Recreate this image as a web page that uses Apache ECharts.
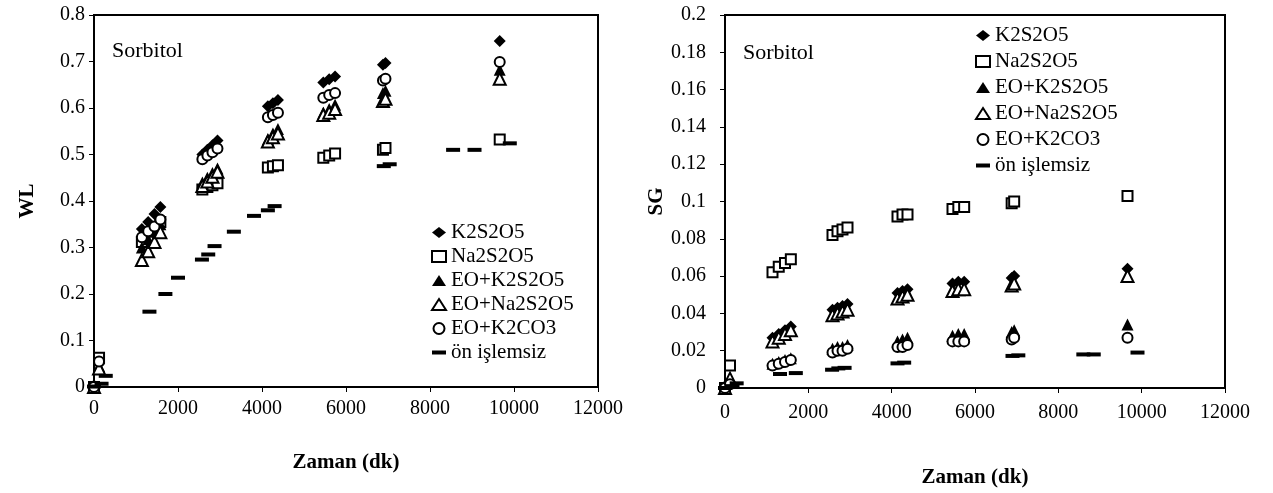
<!DOCTYPE html>
<html>
<head>
<meta charset="utf-8">
<script src="https://cdn.jsdelivr.net/npm/echarts@6/dist/echarts.min.js"></script>
<style>
html,body{margin:0;padding:0;background:#fff;}
#chart{width:1273px;height:493px;}
</style>
</head>
<body>
<div id="chart"></div>
<script>
// ölçüm zamanları (dk) - işlem görmüş numuneler
var zaman = [0, 120, 1140, 1290, 1440, 1580, 2580, 2700, 2820, 2940, 4140, 4260, 4380, 5460, 5600, 5740, 6880, 6940, 9660];
// ön işlemsiz numune zamanları
var zamanWL_on = [0, 180, 280, 1320, 1700, 2000, 2570, 2720, 2870, 3330, 3810, 4140, 4300, 6900, 7040, 8550, 9060, 9900];
var zamanSG_on = [0, 180, 280, 1320, 1700, 2570, 2720, 2870, 4140, 4300, 6900, 7040, 8600, 8850, 9900];

// WL (sol grafik)
var wl_k2s2o5 = [0.003, 0.05, 0.34, 0.355, 0.372, 0.387, 0.5, 0.51, 0.52, 0.53, 0.604, 0.61, 0.617, 0.655, 0.662, 0.668, 0.693, 0.697, 0.744];
var wl_na2s2o5 = [0, 0.063, 0.312, 0.325, 0.342, 0.355, 0.425, 0.43, 0.434, 0.438, 0.472, 0.475, 0.477, 0.493, 0.498, 0.502, 0.51, 0.514, 0.532];
var wl_eoK2s2o5 = [0, 0.045, 0.3, 0.318, 0.334, 0.35, 0.44, 0.45, 0.46, 0.47, 0.533, 0.545, 0.555, 0.59, 0.598, 0.607, 0.632, 0.637, 0.682];
var wl_eoNa2s2o5 = [0, 0.04, 0.273, 0.292, 0.312, 0.333, 0.432, 0.442, 0.452, 0.463, 0.528, 0.537, 0.545, 0.585, 0.59, 0.598, 0.615, 0.62, 0.663];
var wl_eoK2co3 = [0, 0.055, 0.322, 0.335, 0.345, 0.36, 0.49, 0.498, 0.505, 0.513, 0.58, 0.585, 0.59, 0.622, 0.628, 0.632, 0.659, 0.663, 0.699];
var wl_onIslemsiz = [0.001, 0.007, 0.024, 0.162, 0.2, 0.235, 0.274, 0.285, 0.303, 0.334, 0.368, 0.38, 0.389, 0.475, 0.479, 0.51, 0.51, 0.524];

// SG (sağ grafik)
var sg_k2s2o5 = [0.001, 0.002, 0.027, 0.029, 0.031, 0.033, 0.042, 0.043, 0.044, 0.045, 0.051, 0.052, 0.053, 0.056, 0.057, 0.057, 0.059, 0.06, 0.064];
var sg_na2s2o5 = [0, 0.012, 0.062, 0.065, 0.067, 0.069, 0.082, 0.084, 0.085, 0.086, 0.092, 0.093, 0.093, 0.096, 0.097, 0.097, 0.099, 0.1, 0.103];
var sg_eoK2s2o5 = [0, 0.003, 0.013, 0.014, 0.015, 0.016, 0.021, 0.022, 0.022, 0.023, 0.025, 0.026, 0.027, 0.028, 0.029, 0.029, 0.03, 0.031, 0.034];
var sg_eoNa2s2o5 = [0, 0.005, 0.025, 0.027, 0.029, 0.031, 0.039, 0.04, 0.041, 0.042, 0.048, 0.049, 0.05, 0.052, 0.053, 0.053, 0.055, 0.056, 0.06];
var sg_eoK2co3 = [0, 0.002, 0.012, 0.013, 0.014, 0.015, 0.019, 0.02, 0.02, 0.021, 0.022, 0.022, 0.023, 0.025, 0.025, 0.025, 0.026, 0.027, 0.027];
var sg_onIslemsiz = [0, 0.001, 0.0025, 0.0075, 0.008, 0.0098, 0.0105, 0.0108, 0.0132, 0.0136, 0.0172, 0.0175, 0.018, 0.018, 0.019];

// eksen ayarları
var xTicks = [0, 12000, 2000];   // min, max, aralık
var wlTicks = [0, 0.8, 0.1];
var sgTicks = [0, 0.2, 0.02];

var seriesNames = ['K2S2O5', 'Na2S2O5', 'EO+K2S2O5', 'EO+Na2S2O5', 'EO+K2CO3', 'ön işlemsiz'];

var font = 'Liberation Serif';

function zip(xs, ys){
	var out = [];
	for(var i = 0; i < ys.length; i++){
		out.push([xs[i], ys[i]]);
	}
	return out;
}

// işaret stilleri
var dolu = {color: '#000', opacity: 1};
var bos = {color: '#fff', borderColor: '#000', borderWidth: 2, opacity: 1};
var markers = [
	{symbol: 'diamond', symbolSize: 12, itemStyle: dolu},
	{symbol: 'rect', symbolSize: 10, itemStyle: bos},
	{symbol: 'triangle', symbolSize: 12, itemStyle: dolu},
	{symbol: 'triangle', symbolSize: 12, itemStyle: bos},
	{symbol: 'circle', symbolSize: 10, itemStyle: bos},
	{symbol: 'rect', symbolSize: [14, 4], itemStyle: dolu}
];
var legendIcons = ['diamond', 'rect', 'triangle', 'triangle', 'circle', 'path://M0,0H14V4H0Z'];

function makeSeries(dataSets, idx){
	var list = [];
	for(var i = 0; i < dataSets.length; i++){
		list.push({
			name: seriesNames[i],
			type: 'scatter',
			xAxisIndex: idx,
			yAxisIndex: idx,
			symbol: markers[i].symbol,
			symbolSize: markers[i].symbolSize,
			itemStyle: markers[i].itemStyle,
			emphasis: {disabled: true},
			data: dataSets[i]
		});
	}
	return list;
}

function legendData(){
	var d = [];
	for(var i = 0; i < seriesNames.length; i++){
		d.push({name: seriesNames[i], icon: legendIcons[i]});
	}
	return d;
}

function plain(v){
	return String(v);
}

function xAxisOf(idx, margin, gap){
	return {
		type: 'value', gridIndex: idx,
		min: xTicks[0], max: xTicks[1], interval: xTicks[2],
		name: 'Zaman (dk)', nameLocation: 'middle', nameGap: gap,
		nameTextStyle: {fontFamily: font, fontWeight: 'bold', fontSize: 21, color: '#000'},
		axisLine: {lineStyle: {color: '#000', width: 2}},
		axisTick: {show: true, length: 5, lineStyle: {color: '#000'}},
		axisLabel: {fontFamily: font, fontSize: 20, color: '#000', margin: margin, formatter: plain},
		splitLine: {show: false}
	};
}

function yAxisOf(idx, ticks, name, margin, gap){
	return {
		type: 'value', gridIndex: idx,
		min: ticks[0], max: ticks[1], interval: ticks[2],
		name: name, nameLocation: 'middle', nameGap: gap,
		nameTextStyle: {fontFamily: font, fontWeight: 'bold', fontSize: 21, color: '#000'},
		axisLine: {lineStyle: {color: '#000', width: 2}},
		axisTick: {show: true, length: 5, lineStyle: {color: '#000'}},
		axisLabel: {fontFamily: font, fontSize: 20, color: '#000', margin: margin, formatter: plain},
		splitLine: {show: false}
	};
}

var chart = echarts.init(document.getElementById('chart'), null, {renderer: 'canvas'});

var wlSets = [
	zip(zaman, wl_k2s2o5), zip(zaman, wl_na2s2o5), zip(zaman, wl_eoK2s2o5),
	zip(zaman, wl_eoNa2s2o5), zip(zaman, wl_eoK2co3), zip(zamanWL_on, wl_onIslemsiz)
];
var sgSets = [
	zip(zaman, sg_k2s2o5), zip(zaman, sg_na2s2o5), zip(zaman, sg_eoK2s2o5),
	zip(zaman, sg_eoNa2s2o5), zip(zaman, sg_eoK2co3), zip(zamanSG_on, sg_onIslemsiz)
];

var option = {
	backgroundColor: '#fff',
	animation: false,
	grid: [
		{left: 94, top: 15, width: 504, height: 372, show: true, borderColor: '#000', borderWidth: 2, backgroundColor: '#fff'},
		{left: 725, top: 15, width: 500, height: 378, show: true, borderColor: '#000', borderWidth: 2, backgroundColor: '#fff'}
	],
	xAxis: [xAxisOf(0, 12, 65), xAxisOf(1, 15, 79)],
	yAxis: [yAxisOf(0, wlTicks, 'WL', 9, 56), yAxisOf(1, sgTicks, 'SG', 19, 55)],
	legend: [
		{
			left: 426, top: 217, orient: 'vertical',
			itemWidth: 14, itemHeight: 11, itemGap: 3,
			textStyle: {fontFamily: font, fontSize: 21, color: '#000', lineHeight: 20},
			selectedMode: false,
			data: legendData()
		},
		{
			left: 970, top: 20, orient: 'vertical',
			itemWidth: 14, itemHeight: 11, itemGap: 5,
			textStyle: {fontFamily: font, fontSize: 21, color: '#000', lineHeight: 20},
			selectedMode: false,
			data: legendData()
		}
	],
	graphic: [
		{type: 'text', left: 112, top: 40, style: {text: 'Sorbitol', font: '22px "Liberation Serif"', fill: '#000'}},
		{type: 'text', left: 743, top: 42, style: {text: 'Sorbitol', font: '22px "Liberation Serif"', fill: '#000'}}
	],
	series: makeSeries(wlSets, 0).concat(makeSeries(sgSets, 1))
};
chart.setOption(option);
</script>
</body>
</html>
